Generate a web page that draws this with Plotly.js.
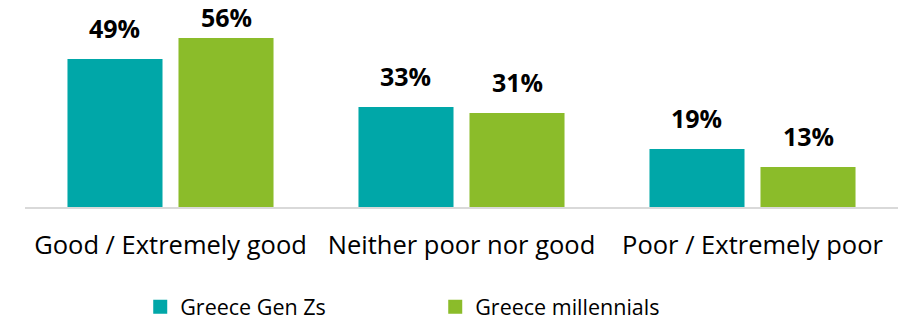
<!DOCTYPE html>
<html>
<head>
<meta charset="utf-8">
<script src="https://cdn.plot.ly/plotly-3.0.1.min.js"></script>
<style>html,body{margin:0;padding:0;background:#fff;}#chart{width:902px;height:323px;}</style>
</head>
<body>
<div id="chart"></div>
<script>
const categories = ["Good / Extremely good", "Neither poor nor good", "Poor / Extremely poor"];
const genZ = [49, 33, 19];
const millennials = [56, 31, 13];
const seriesNames = ["Greece Gen Zs", "Greece millennials"];
const colors = ["#00A7A8", "#8BBC2A"];

const W = 902, H = 323;
const margin = {l: 25, r: 4, t: 27, b: 116};
const yMax = 60;
const plotH = H - margin.t - margin.b;
const pxPerUnit = plotH / yMax;
const plotW = W - margin.l - margin.r;
const catW = plotW / categories.length;
const bargap = 0.237;
const slot = catW * (1 - bargap) / 2;

const traces = [genZ, millennials].map((vals, i) => ({
  type: "bar",
  name: seriesNames[i],
  x: categories,
  y: vals,
  marker: {color: colors[i], line: {color: colors[i], width: 2}},
  hoverinfo: "none"
}));

const annotations = [];
[genZ, millennials].forEach((vals, i) => {
  vals.forEach((v, j) => {
    const barTopPx = margin.t + plotH - v * pxPerUnit;
    let shift = 13;
    const maxShift = barTopPx - 36;
    if (shift > maxShift) shift = maxShift;
    annotations.push({
      x: categories[j], y: v, xref: "x", yref: "y",
      text: "<b>" + v + "%</b>", showarrow: false,
      xshift: (i === 0 ? -1 : 1) * slot / 2,
      yshift: shift, yanchor: "bottom",
      font: {family: "Open Sans, sans-serif", size: 25, color: "#000"}
    });
  });
});

const layout = {
  width: W, height: H,
  margin: margin,
  paper_bgcolor: "#fff", plot_bgcolor: "#fff",
  barmode: "group", bargap: bargap, bargroupgap: 0.162,
  font: {family: "Open Sans, sans-serif", color: "#000"},
  xaxis: {
    showline: true, linecolor: "#D9D9D9", linewidth: 2,
    ticks: "", showgrid: false, zeroline: false, automargin: false,
    tickfont: {size: 25.5, color: "#000", family: "Open Sans, sans-serif"},
    ticklabelstandoff: 14
  },
  yaxis: {range: [0, yMax], visible: false, showgrid: false, zeroline: false, automargin: false},
  showlegend: true,
  legend: {
    orientation: "h", x: 0.132, xanchor: "left",
    yref: "container", y: 0.05, yanchor: "middle",
    entrywidth: 250, entrywidthmode: "pixels",
    font: {size: 21.5, color: "#000", family: "Open Sans, sans-serif"},
    itemwidth: 30
  },
  annotations: annotations
};

Plotly.newPlot("chart", traces, layout, {displayModeBar: false, staticPlot: true});
</script>
</body>
</html>
